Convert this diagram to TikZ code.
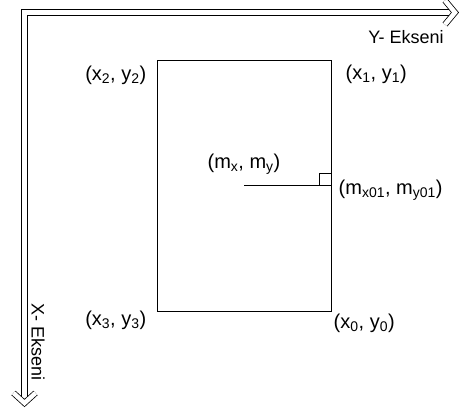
\documentclass[tikz,border=0pt]{standalone}
\usepackage{fontspec}
\setmainfont{Liberation Sans}
\usetikzlibrary{arrows.meta}

\begin{document}
\begin{tikzpicture}[x=1pt,y=-1pt,
  axisline/.style={draw=black,double=white,double distance=4.5pt,line width=0.8pt,line join=miter},
  axislbl/.style={font=\fontsize{18}{20}\selectfont,inner sep=0pt},
  lbl/.style={font=\fontsize{20}{22}\selectfont,inner sep=0pt}]
\useasboundingbox (0,0) rectangle (460,416);
% axes
\coordinate (origin) at (24.5,12.5);
\coordinate (ytip) at (455,12.5);
\coordinate (xtip) at (24.5,403);
\draw[axisline] ([xshift=-3pt]ytip) -- (origin) -- ([yshift=3pt]xtip);
\draw[axisline] ([xshift=-10pt,yshift=12pt]ytip) -- (ytip) -- ([xshift=-10pt,yshift=-12pt]ytip);
\draw[axisline] ([xshift=-11pt,yshift=10pt]xtip) -- (xtip) -- ([xshift=11pt,yshift=10pt]xtip);
\node[axislbl] (ylbl) at (406,37) {Y- Ekseni};
\node[axislbl,rotate=-90] (xlbl) at (38,342) {X- Ekseni};
% plate and corners
\node[draw,line width=1pt,minimum width=174pt,minimum height=251pt,inner sep=0pt] (plate) at (244,185.5) {};
\node[lbl,anchor=east] (c2) at ([xshift=-10pt,yshift=-16pt]plate.north west) {(x\textsubscript{2}, y\textsubscript{2})};
\node[lbl,anchor=west] (c1) at ([xshift=14pt,yshift=-15pt]plate.north east) {(x\textsubscript{1}, y\textsubscript{1})};
\node[lbl,anchor=east] (c3) at ([xshift=-10pt,yshift=-9pt]plate.south west) {(x\textsubscript{3}, y\textsubscript{3})};
\node[lbl,anchor=west] (c0) at ([xshift=2pt,yshift=-12pt]plate.south east) {(x\textsubscript{0}, y\textsubscript{0})};
% centre and foot of the normal
\node[lbl,above=11pt] (mid) at (plate.center) {(m\textsubscript{x}, m\textsubscript{y})};
\node[lbl,anchor=west] (foot) at ([xshift=7pt,yshift=-5pt]plate.east) {(m\textsubscript{x01}, m\textsubscript{y01})};
\draw[line width=1.6pt] (plate.center) -- (plate.east);
\draw[line width=0.8pt] ([xshift=-12pt]plate.east) -- ++(0,-12) -- ++(12,0);
\end{tikzpicture}
\end{document}
